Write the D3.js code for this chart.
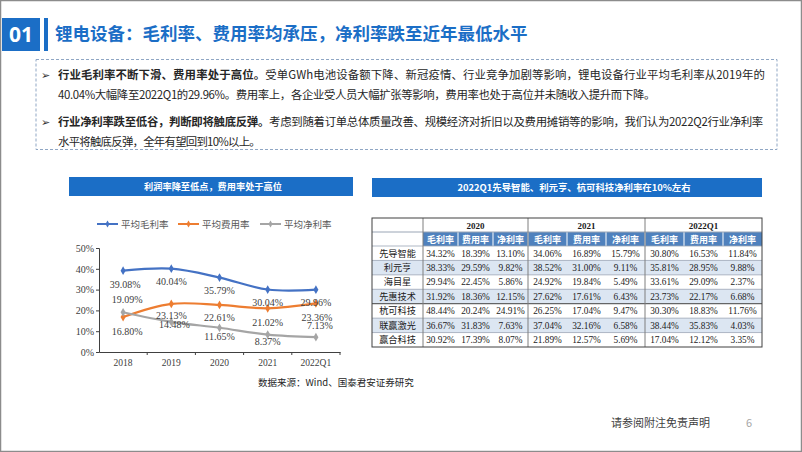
<!DOCTYPE html>
<html><head><meta charset="utf-8">
<script src="https://cdn.jsdelivr.net/npm/d3@7"></script>
<style>
html,body{margin:0;padding:0;background:#fff;}
svg{display:block;}
</style></head>
<body>
<svg id="c" width="802" height="452"></svg>
<script>
// ---------- data ----------
const years = ["2018","2019","2020","2021","2022Q1"];
const grossMargin = [39.08, 40.04, 35.79, 30.04, 29.96];
const expenseRate = [16.80, 23.13, 22.61, 21.02, 23.36];
const netMargin = [19.09, 14.48, 11.65, 8.37, 7.13];
const seriesNames = ["平均毛利率","平均费用率","平均净利率"];
const yTicks = [0, 10, 20, 30, 40, 50];

const companies = ["先导智能","利元亨","海目星","先惠技术","杭可科技","联赢激光","赢合科技"];
const periods = ["2020","2021","2022Q1"];
const metrics = ["毛利率","费用率","净利率"];
const t2020 = [[34.32,18.39,13.10],[38.33,29.59,9.82],[29.94,22.45,5.86],[31.92,18.36,12.15],[48.44,20.24,24.91],[36.67,31.83,7.63],[30.92,17.39,8.07]];
const t2021 = [[34.06,16.89,15.79],[38.52,31.00,9.11],[24.92,19.84,5.49],[27.62,17.61,6.43],[26.25,17.04,9.47],[37.04,32.16,6.58],[21.89,12.57,5.69]];
const t2022 = [[30.80,16.53,11.84],[35.81,28.95,9.88],[33.61,29.09,2.37],[23.73,22.17,6.68],[30.30,18.83,11.76],[38.44,35.83,4.03],[17.04,12.12,3.35]];

// ---------- styles ----------
const BLUE = "#1b6ec6";
const CJK = "'Noto Sans CJK SC','Noto Sans',sans-serif";
const SERIF = "'Liberation Serif','Times New Roman',serif";
const colors = ["#4472C4","#ED7D31","#A5A5A5"];
// label offsets (dx, dy) relative to points
const labelDx = [[2,0,0,0,0],[4,0,0,0,1],[4,3,0,0,4]];
const labelDy = [[14,13,13,13,13],[14,12,13,14,14],[-13,3,9,7,-12]];

const svg = d3.select("#c");

// page frame
svg.append("rect").attr("x",0.5).attr("y",0.5).attr("width",801).attr("height",451)
  .attr("fill","#fff").attr("stroke","#8c8c8c").attr("stroke-width",1.5);

// header
svg.append("rect").attr("x",2).attr("y",18).attr("width",38).attr("height",33).attr("fill",BLUE);
svg.append("text").attr("x",21).attr("y",42).attr("text-anchor","middle")
  .attr("font-family","'Open Sans','DejaVu Sans',sans-serif").attr("font-weight","bold")
  .attr("font-size",21).attr("fill","#fff").text("01");
svg.append("rect").attr("x",44).attr("y",18).attr("width",4).attr("height",33).attr("fill",BLUE);
svg.append("text").attr("x",55).attr("y",40).attr("font-family",CJK).attr("font-weight","bold")
  .attr("font-size",17.5).attr("fill",BLUE).text("锂电设备：毛利率、费用率均承压，净利率跌至近年最低水平");

// dashed box
svg.append("rect").attr("x",36).attr("y",59.5).attr("width",741).attr("height",90)
  .attr("fill","none").attr("stroke","#8fa6c4").attr("stroke-width",1).attr("stroke-dasharray","3,2");

const lines = [
  {y:79, bullet:true, end:765, bold:"行业毛利率不断下滑、费用率处于高位。", rest:"受单GWh电池设备额下降、新冠疫情、行业竞争加剧等影响，锂电设备行业平均毛利率从2019年的"},
  {y:99, bullet:false, end:655, bold:"", rest:"40.04%大幅降至2022Q1的29.96%。费用率上，各企业受人员大幅扩张等影响，费用率也处于高位并未随收入提升而下降。"},
  {y:126, bullet:true, end:763, bold:"行业净利率跌至低谷，判断即将触底反弹。", rest:"考虑到随着订单总体质量改善、规模经济对折旧以及费用摊销等的影响，我们认为2022Q2行业净利率"},
  {y:146, bullet:false, end:260, bold:"", rest:"水平将触底反弹，全年有望回到10%以上。"}
];
lines.forEach(l=>{
  if(l.bullet){
    svg.append("text").attr("x",41).attr("y",l.y).attr("font-family","'DejaVu Sans',sans-serif")
      .attr("font-size",11).attr("fill","#333").text("➢");
  }
  const t = svg.append("text").attr("x",58).attr("y",l.y).attr("font-family",CJK)
    .attr("font-size",11.4).attr("fill","#262626");
  if(l.bold) t.append("tspan").attr("font-weight","bold").text(l.bold);
  t.append("tspan").text(l.rest);
  const w = t.node().getComputedTextLength();
  const n = (l.bold + l.rest).length;
  const ls = (l.end - 58 - w) / n;
  t.attr("letter-spacing", ls.toFixed(3));
});

// ---------- left chart ----------
svg.append("rect").attr("x",69).attr("y",177).attr("width",284).attr("height",19).attr("fill",BLUE);
svg.append("text").attr("x",213).attr("y",190).attr("text-anchor","middle").attr("font-family",CJK)
  .attr("font-weight","bold").attr("font-size",9.2).attr("fill","#fff").text("利润率降至低点，费用率处于高位");

// legend
const legX = [97, 178, 260];
seriesNames.forEach((n,i)=>{
  const g = svg.append("g");
  g.append("line").attr("x1",legX[i]).attr("x2",legX[i]+21).attr("y1",224).attr("y2",224)
    .attr("stroke",colors[i]).attr("stroke-width",2);
  g.append("path").attr("d",d3.symbol(d3.symbolDiamond,14)()).attr("transform",`translate(${legX[i]+10.5},224)`)
    .attr("fill",colors[i]);
  g.append("text").attr("x",legX[i]+24).attr("y",228).attr("font-family",CJK).attr("font-size",9.5)
    .attr("fill","#595959").text(n);
});

const x = d3.scaleBand().domain(years).range([99,340]);
const y = d3.scaleLinear().domain([0,50]).range([352,248]);

const yAxis = svg.append("g").attr("transform","translate(99,0)")
  .call(d3.axisLeft(y).tickValues(yTicks).tickSize(3).tickFormat(d=>d+"%"));
yAxis.select(".domain").attr("stroke","#404040");
yAxis.selectAll(".tick line").attr("stroke","#404040");
yAxis.selectAll("text").attr("font-family",SERIF).attr("font-size",10).attr("fill","#404040").attr("x",-5);

const xAxis = svg.append("g").attr("transform","translate(0,352)")
  .call(d3.axisBottom(x).tickSize(0).tickSizeOuter(0));
xAxis.select(".domain").attr("stroke","#404040");
xAxis.selectAll("text").attr("font-family",SERIF).attr("font-size",9.5).attr("fill","#404040").attr("dy","1.2em");
// band boundary ticks
svg.append("g").selectAll("line").data(years.slice(1).concat(["end"])).join("line")
  .attr("x1",d=> d==="end"? x.range()[1] : x(d)).attr("x2",d=> d==="end"? x.range()[1] : x(d))
  .attr("y1",352).attr("y2",355).attr("stroke","#404040");

const series = [grossMargin, expenseRate, netMargin];
const cx = d=> x(d)+x.bandwidth()/2;
const line = d3.line().x((d,i)=>cx(years[i])).y(d=>y(d)).curve(d3.curveCatmullRom.alpha(0.5));
series.forEach((s,si)=>{
  svg.append("path").attr("d",line(s)).attr("fill","none").attr("stroke",colors[si]).attr("stroke-width",2.2);
  svg.append("g").selectAll("path").data(s).join("path")
    .attr("d",d3.symbol(d3.symbolDiamond,22)())
    .attr("transform",(d,i)=>`translate(${cx(years[i])},${y(d)})`)
    .attr("fill",colors[si]);
});
series.forEach((s,si)=>{
  svg.append("g").selectAll("text").data(s).join("text")
    .attr("x",(d,i)=>cx(years[i])+labelDx[si][i])
    .attr("y",(d,i)=>y(d)+labelDy[si][i]+3.5)
    .attr("text-anchor","middle").attr("font-family",SERIF).attr("font-size",10).attr("fill","#404040")
    .text(d=>d.toFixed(2)+"%");
});

svg.append("text").attr("x",258).attr("y",386).attr("font-family",CJK).attr("font-size",9.5)
  .attr("fill","#262626").text("数据来源：Wind、国泰君安证券研究");

// ---------- right table ----------
svg.append("rect").attr("x",372).attr("y",178).attr("width",390).attr("height",19).attr("fill",BLUE);
svg.append("text").attr("x",574).attr("y",191).attr("text-anchor","middle").attr("font-family",CJK)
  .attr("font-weight","bold").attr("font-size",9.4).attr("fill","#fff").text("2022Q1先导智能、利元亨、杭可科技净利率在10%左右");

const tableData = [t2020, t2021, t2022];
const colEdges = [372, 423, 458, 493, 528, 567, 606, 645, 684, 723, 762];
const tTop = 218, h1 = 14, h2 = 14, tBottom = 347;
const rowH = (tBottom - (tTop+h1+h2)) / companies.length;
const rowTop = i => tTop + h1 + h2 + i*rowH;

const tg = svg.append("g");
// header 1
tg.append("rect").attr("x",372).attr("y",tTop).attr("width",390).attr("height",h1).attr("fill","#fff");
periods.forEach((p,pi)=>{
  const x0 = colEdges[1+pi*3], x1 = colEdges[4+pi*3];
  tg.append("text").attr("x",(x0+x1)/2).attr("y",tTop+10.5).attr("text-anchor","middle")
    .attr("font-family",SERIF).attr("font-weight","bold").attr("font-size",9).attr("fill","#1a1a1a").text(p);
});
// header 2
tg.append("rect").attr("x",372).attr("y",tTop+h1).attr("width",390).attr("height",h2).attr("fill","#fff");
tg.append("rect").attr("x",423).attr("y",tTop+h1).attr("width",339).attr("height",h2).attr("fill","#4f81bd");
for(let c=0;c<9;c++){
  const x0 = colEdges[1+c], x1 = colEdges[2+c];
  tg.append("text").attr("x",(x0+x1)/2).attr("y",tTop+h1+10.5).attr("text-anchor","middle")
    .attr("font-family",CJK).attr("font-weight","bold").attr("font-size",9).attr("fill","#fff").text(metrics[c%3]);
  if(c>0) tg.append("line").attr("x1",x0).attr("x2",x0).attr("y1",tTop+h1).attr("y2",tTop+h1+h2)
    .attr("stroke","#fff").attr("stroke-width",1);
}
// data rows
companies.forEach((name,ri)=>{
  const yT = rowTop(ri);
  tg.append("rect").attr("x",372).attr("y",yT).attr("width",390).attr("height",rowH)
    .attr("fill", ri%2===1 ? "#dce6f2" : "#fff");
  tg.append("text").attr("x",(colEdges[0]+colEdges[1])/2).attr("y",yT+rowH/2+3.3).attr("text-anchor","middle")
    .attr("font-family",CJK).attr("font-size",9.2).attr("fill","#1a1a1a").text(name);
  tableData.forEach((td,pi)=>{
    td[ri].forEach((v,mi)=>{
      const c = pi*3+mi;
      const x0 = colEdges[1+c], x1 = colEdges[2+c];
      tg.append("text").attr("x",(x0+x1)/2).attr("y",yT+rowH/2+3.3).attr("text-anchor","middle")
        .attr("font-family",SERIF).attr("font-size",9.3).attr("fill","#1a1a1a").text(v.toFixed(2)+"%");
    });
  });
  tg.append("line").attr("x1",372).attr("x2",762).attr("y1",yT).attr("y2",yT)
    .attr("stroke", ri===4 ? "#404040" : "#9aa5b5").attr("stroke-width", ri===4?1:0.8);
});
tg.append("line").attr("x1",372).attr("x2",762).attr("y1",tTop+h1).attr("y2",tTop+h1).attr("stroke","#9aa5b5");
// vertical group dividers
[423, 528, 645].forEach(xv=>{
  tg.append("line").attr("x1",xv).attr("x2",xv).attr("y1",tTop).attr("y2",tBottom)
    .attr("stroke","#7f7f7f").attr("stroke-width",1);
});
// outer border
tg.append("rect").attr("x",372).attr("y",tTop).attr("width",390).attr("height",tBottom-tTop)
  .attr("fill","none").attr("stroke","#404040").attr("stroke-width",1);

// footer
svg.append("text").attr("x",611).attr("y",427).attr("font-family",CJK).attr("font-size",11)
  .attr("fill","#404040").text("请参阅附注免责声明");
svg.append("text").attr("x",746).attr("y",427).attr("font-family",CJK).attr("font-size",11)
  .attr("fill","#a6a6a6").text("6");
</script>
</body></html>
